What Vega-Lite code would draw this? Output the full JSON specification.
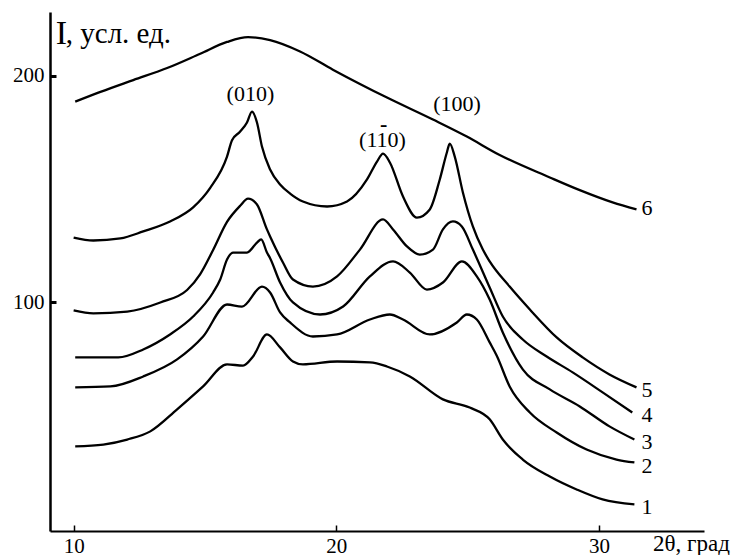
{
"$schema":"https://vega.github.io/schema/vega-lite/v6.json",
"width":654,"height":519,
"autosize":{"type":"none"},
"padding":{"left":50,"top":12,"right":31,"bottom":24},
"background":"white",
"config":{"view":{"stroke":null},"font":"Liberation Serif","axis":{"grid":false}},
"datasets":{
"curves":[
{"c":6,"x":10.06,"y":188.5},{"c":6,"x":11.02,"y":192.8},{"c":6,"x":12.27,"y":198.0},{"c":6,"x":13.56,"y":203.3},{"c":6,"x":14.82,"y":209.6},{"c":6,"x":15.84,"y":214.8},{"c":6,"x":16.64,"y":216.9},{"c":6,"x":17.48,"y":215.6},{"c":6,"x":18.62,"y":210.6},{"c":6,"x":19.87,"y":202.6},{"c":6,"x":21.93,"y":190.3},{"c":6,"x":23.68,"y":180.6},{"c":6,"x":24.97,"y":173.1},{"c":6,"x":26.22,"y":165.0},{"c":6,"x":28.13,"y":155.1},{"c":6,"x":29.27,"y":149.5},{"c":6,"x":30.52,"y":144.1},{"c":6,"x":31.43,"y":141.0},
{"c":5,"x":10.0,"y":128.6},{"c":5,"x":10.75,"y":127.3},{"c":5,"x":11.78,"y":128.2},{"c":5,"x":12.65,"y":131.3},{"c":5,"x":13.67,"y":135.7},{"c":5,"x":14.55,"y":141.9},{"c":5,"x":15.2,"y":150.5},{"c":5,"x":15.84,"y":164.3},{"c":5,"x":16.03,"y":171.5},{"c":5,"x":16.34,"y":175.3},{"c":5,"x":16.6,"y":179.3},{"c":5,"x":16.79,"y":184.1},{"c":5,"x":16.98,"y":179.3},{"c":5,"x":17.17,"y":168.7},{"c":5,"x":17.48,"y":158.6},{"c":5,"x":17.86,"y":152.0},{"c":5,"x":18.24,"y":148.0},{"c":5,"x":18.73,"y":144.5},{"c":5,"x":19.65,"y":142.3},{"c":5,"x":20.41,"y":144.5},{"c":5,"x":21.17,"y":154.2},{"c":5,"x":21.55,"y":162.1},{"c":5,"x":21.78,"y":165.6},{"c":5,"x":22.04,"y":161.7},{"c":5,"x":22.54,"y":146.7},{"c":5,"x":23.07,"y":137.4},{"c":5,"x":23.56,"y":141.0},{"c":5,"x":23.94,"y":154.2},{"c":5,"x":24.21,"y":166.1},{"c":5,"x":24.32,"y":170.0},{"c":5,"x":24.51,"y":164.3},{"c":5,"x":24.82,"y":148.5},{"c":5,"x":25.2,"y":133.5},{"c":5,"x":25.58,"y":123.3},{"c":5,"x":25.84,"y":118.1},{"c":5,"x":26.6,"y":107.0},{"c":5,"x":27.37,"y":96.9},{"c":5,"x":28.39,"y":84.6},{"c":5,"x":29.38,"y":75.8},{"c":5,"x":30.4,"y":68.3},{"c":5,"x":31.43,"y":62.6},
{"c":4,"x":10.0,"y":96.5},{"c":4,"x":10.75,"y":95.2},{"c":4,"x":12.04,"y":96.0},{"c":4,"x":13.3,"y":100.0},{"c":4,"x":14.32,"y":105.5},{"c":4,"x":14.82,"y":112.5},{"c":4,"x":15.31,"y":123.1},{"c":4,"x":15.84,"y":135.5},{"c":4,"x":16.34,"y":142.6},{"c":4,"x":16.64,"y":145.8},{"c":4,"x":16.98,"y":143.2},{"c":4,"x":17.36,"y":132.2},{"c":4,"x":17.48,"y":129.1},{"c":4,"x":17.97,"y":117.6},{"c":4,"x":18.35,"y":110.1},{"c":4,"x":19.11,"y":107.0},{"c":4,"x":20.03,"y":111.5},{"c":4,"x":20.9,"y":123.3},{"c":4,"x":21.78,"y":136.6},{"c":4,"x":22.16,"y":132.2},{"c":4,"x":22.69,"y":124.7},{"c":4,"x":23.18,"y":121.1},{"c":4,"x":23.68,"y":123.3},{"c":4,"x":24.06,"y":132.2},{"c":4,"x":24.44,"y":135.7},{"c":4,"x":24.78,"y":133.5},{"c":4,"x":25.2,"y":123.3},{"c":4,"x":25.84,"y":106.6},{"c":4,"x":26.34,"y":93.8},{"c":4,"x":27.1,"y":83.7},{"c":4,"x":28.01,"y":76.2},{"c":4,"x":29.0,"y":69.2},{"c":4,"x":30.14,"y":60.4},{"c":4,"x":31.27,"y":51.5},
{"c":3,"x":10.06,"y":75.8},{"c":3,"x":11.7,"y":75.8},{"c":3,"x":12.65,"y":79.3},{"c":3,"x":13.67,"y":85.9},{"c":3,"x":14.55,"y":93.8},{"c":3,"x":15.31,"y":104.4},{"c":3,"x":15.58,"y":110.1},{"c":3,"x":15.84,"y":118.9},{"c":3,"x":16.07,"y":122.0},{"c":3,"x":16.6,"y":122.0},{"c":3,"x":16.98,"y":126.4},{"c":3,"x":17.14,"y":127.8},{"c":3,"x":17.36,"y":122.0},{"c":3,"x":17.48,"y":119.5},{"c":3,"x":17.86,"y":108.8},{"c":3,"x":18.35,"y":100.0},{"c":3,"x":19.38,"y":94.7},{"c":3,"x":20.26,"y":98.2},{"c":3,"x":21.28,"y":111.5},{"c":3,"x":22.16,"y":118.1},{"c":3,"x":22.8,"y":113.2},{"c":3,"x":23.45,"y":105.7},{"c":3,"x":24.06,"y":108.8},{"c":3,"x":24.78,"y":118.1},{"c":3,"x":25.35,"y":111.5},{"c":3,"x":25.84,"y":101.3},{"c":3,"x":26.34,"y":86.8},{"c":3,"x":27.1,"y":70.5},{"c":3,"x":28.13,"y":61.7},{"c":3,"x":29.27,"y":54.2},{"c":3,"x":30.4,"y":45.4},{"c":3,"x":31.35,"y":39.6},
{"c":2,"x":10.06,"y":62.6},{"c":2,"x":11.4,"y":63.0},{"c":2,"x":12.65,"y":67.4},{"c":2,"x":13.94,"y":74.9},{"c":2,"x":14.93,"y":85.0},{"c":2,"x":15.84,"y":99.1},{"c":2,"x":16.41,"y":98.2},{"c":2,"x":17.17,"y":107.0},{"c":2,"x":17.48,"y":104.4},{"c":2,"x":17.86,"y":95.6},{"c":2,"x":18.24,"y":91.2},{"c":2,"x":19.11,"y":85.0},{"c":2,"x":20.03,"y":85.9},{"c":2,"x":21.28,"y":92.5},{"c":2,"x":22.04,"y":94.7},{"c":2,"x":22.54,"y":92.5},{"c":2,"x":23.56,"y":85.9},{"c":2,"x":24.59,"y":91.2},{"c":2,"x":24.97,"y":94.7},{"c":2,"x":25.35,"y":92.5},{"c":2,"x":25.84,"y":82.4},{"c":2,"x":26.11,"y":76.5},{"c":2,"x":26.6,"y":63.0},{"c":2,"x":27.37,"y":51.5},{"c":2,"x":28.39,"y":42.7},{"c":2,"x":29.53,"y":35.2},{"c":2,"x":30.67,"y":30.8},{"c":2,"x":31.35,"y":29.5},
{"c":1,"x":10.06,"y":36.6},{"c":1,"x":11.13,"y":37.4},{"c":1,"x":12.04,"y":39.6},{"c":1,"x":12.92,"y":43.2},{"c":1,"x":13.94,"y":52.9},{"c":1,"x":14.93,"y":63.0},{"c":1,"x":15.84,"y":72.7},{"c":1,"x":16.45,"y":72.2},{"c":1,"x":16.83,"y":76.2},{"c":1,"x":17.36,"y":85.9},{"c":1,"x":17.86,"y":80.2},{"c":1,"x":18.35,"y":74.0},{"c":1,"x":18.73,"y":72.7},{"c":1,"x":20.03,"y":74.0},{"c":1,"x":21.28,"y":73.6},{"c":1,"x":21.93,"y":71.8},{"c":1,"x":22.8,"y":67.4},{"c":1,"x":24.06,"y":57.3},{"c":1,"x":25.08,"y":53.7},{"c":1,"x":25.84,"y":48.5},{"c":1,"x":26.34,"y":39.6},{"c":1,"x":27.1,"y":30.8},{"c":1,"x":28.13,"y":23.3},{"c":1,"x":29.15,"y":17.6},{"c":1,"x":30.14,"y":13.2},{"c":1,"x":31.35,"y":11.0}
],
"nums":[
{"x":31.62,"y":141.7,"t":"6"},{"x":31.62,"y":61.4,"t":"5"},{"x":31.62,"y":50.4,"t":"4"},{"x":31.62,"y":38.3,"t":"3"},{"x":31.62,"y":27.9,"t":"2"},{"x":31.62,"y":9.7,"t":"1"}
],
"peaks":[
{"x":16.73,"y":191.9,"t":"(010)"},{"x":21.76,"y":171.6,"t":"(110)"},{"x":24.6,"y":187.5,"t":"(100)"}
],
"bar":[{"x":21.8,"y":178.6,"t":"-"}],
"unit":[{"x":9.7,"y":214.4,"t":", усл. ед."}]
},
"layer":[
{"data":{"name":"curves"},
"mark":{"type":"line","color":"black","strokeWidth":2.3,"interpolate":"monotone"},
"encoding":{
"x":{"field":"x","type":"quantitative","scale":{"domain":[9.1,34],"nice":false,"zero":false},
"axis":{"title":"2θ, град","values":[10,20,30],"domainColor":"black","domainWidth":2,"tickColor":"black","tickSize":-6,"tickWidth":1.5,"labelFontSize":21,"labelColor":"black","labelPadding":10,"labelFont":"Liberation Serif","labelFlush":false,"titleFont":"Liberation Serif","titleFontSize":23,"titleFontWeight":"normal","titleColor":"black","titleX":641,"titleY":19,"titleAlign":"center","titleBaseline":"alphabetic"}},
"y":{"field":"y","type":"quantitative","scale":{"domain":[-0.7,228],"nice":false,"zero":false},
"axis":{"title":"I","values":[100,200],"domainColor":"black","domainWidth":2.5,"tickColor":"black","tickSize":-6,"tickWidth":3,"labelFontSize":21,"labelColor":"black","labelPadding":12,"labelFont":"Liberation Serif","titleFont":"Liberation Serif","titleFontSize":34,"titleFontWeight":"normal","titleColor":"black","titleAngle":0,"titleX":11,"titleY":31,"titleAlign":"center","titleBaseline":"alphabetic"}},
"detail":{"field":"c","type":"nominal"}}},
{"data":{"name":"nums"},"mark":{"type":"text","align":"left","baseline":"middle","fontSize":22,"font":"Liberation Serif","color":"black"},
"encoding":{"x":{"field":"x","type":"quantitative"},"y":{"field":"y","type":"quantitative"},"text":{"field":"t"}}},
{"data":{"name":"peaks"},"mark":{"type":"text","align":"center","baseline":"middle","fontSize":22,"font":"Liberation Serif","color":"black"},
"encoding":{"x":{"field":"x","type":"quantitative"},"y":{"field":"y","type":"quantitative"},"text":{"field":"t"}}},
{"data":{"name":"bar"},"mark":{"type":"text","align":"center","baseline":"middle","fontSize":22,"fontWeight":"bold","font":"Liberation Serif","color":"black"},
"encoding":{"x":{"field":"x","type":"quantitative"},"y":{"field":"y","type":"quantitative"},"text":{"field":"t"}}},
{"data":{"name":"unit"},"mark":{"type":"text","align":"left","baseline":"alphabetic","fontSize":29,"font":"Liberation Serif","color":"black"},
"encoding":{"x":{"field":"x","type":"quantitative"},"y":{"field":"y","type":"quantitative"},"text":{"field":"t"}}}
]
}
